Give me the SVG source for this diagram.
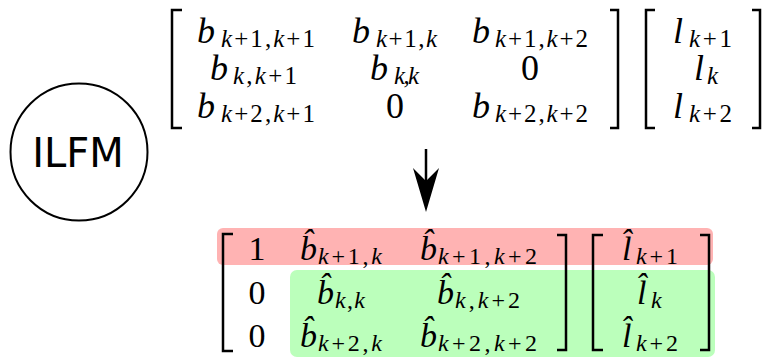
<svg xmlns="http://www.w3.org/2000/svg" width="765" height="358" viewBox="0 0 765 358">
<style>
.t{font-family:"Liberation Serif",serif;fill:#000}
.m{font-style:italic;font-size:36px}
.mb{font-style:italic;font-size:34px}
.n{font-size:36px;text-anchor:middle}
.nb{font-size:34px;text-anchor:middle}
.s{font-size:25px}
.sb{font-size:24px}
.i{font-style:italic}
.br{fill:none;stroke:#000;stroke-width:2.5}
</style>
<g id="ilfm">
<circle cx="79" cy="152" r="68.5" fill="#fff" stroke="#000" stroke-width="2"/>
<text x="78" y="167" font-family="DejaVu Sans, sans-serif" font-size="40" text-anchor="middle">ILFM</text>
</g>
<g id="top-system" class="t">
<path class="br" d="M182,10 H172 V128 H182"/>
<path class="br" d="M610,10 H618 V128 H610"/>
<path class="br" d="M655,10 H646 V128 H655"/>
<path class="br" d="M752,10 H760 V128 H752"/>
<text class="t m" x="197" y="43">b</text>
<text class="t m" x="352" y="43">b</text>
<text class="t m" x="472" y="43">b</text>
<text class="t m" x="210" y="80">b</text>
<text class="t m" x="370" y="80">b</text>
<text class="t m" x="197" y="118">b</text>
<text class="t m" x="472" y="118">b</text>
<text class="t m" x="673" y="43">l</text>
<text class="t m" x="694" y="80">l</text>
<text class="t m" x="673" y="118">l</text>
<text class="t n" x="530" y="80">0</text>
<text class="t n" x="395" y="118">0</text>
<text class="t s" x="221" y="47" textLength="94" lengthAdjust="spacing"><tspan class="i">k</tspan>+1,<tspan class="i">k</tspan>+1</text>
<text class="t s" x="376" y="47" textLength="61" lengthAdjust="spacing"><tspan class="i">k</tspan>+1,<tspan class="i">k</tspan></text>
<text class="t s" x="495" y="47" textLength="93" lengthAdjust="spacing"><tspan class="i">k</tspan>+1,<tspan class="i">k</tspan>+2</text>
<text class="t s" x="233" y="84" textLength="64" lengthAdjust="spacing"><tspan class="i">k</tspan>,<tspan class="i">k</tspan>+1</text>
<text class="t s" x="394" y="84" textLength="25" lengthAdjust="spacing"><tspan class="i">k</tspan>,<tspan class="i">k</tspan></text>
<text class="t s" x="221" y="122" textLength="94" lengthAdjust="spacing"><tspan class="i">k</tspan>+2,<tspan class="i">k</tspan>+1</text>
<text class="t s" x="495" y="122" textLength="93" lengthAdjust="spacing"><tspan class="i">k</tspan>+2,<tspan class="i">k</tspan>+2</text>
<text class="t s" x="689" y="47" textLength="43" lengthAdjust="spacing"><tspan class="i">k</tspan>+1</text>
<text class="t s i" x="707" y="84">k</text>
<text class="t s" x="689" y="122" textLength="43" lengthAdjust="spacing"><tspan class="i">k</tspan>+2</text>
</g>
<g id="connectors">
<line x1="426" y1="149" x2="426" y2="182" stroke="#000" stroke-width="2.5"/>
<polygon points="426,212 413,168 426,181 439,168" fill="#000"/>
</g>
<g id="bottom-system" class="t">
<rect x="217" y="228" width="496" height="37" rx="6" fill="#ffb3b3"/>
<rect x="290" y="270" width="425" height="87" rx="7" fill="#bbffbb"/>
<path class="br" d="M233,234 H223 V351 H233"/>
<path class="br" d="M557,235 H566 V350 H557"/>
<path class="br" d="M603,235 H593 V350 H603"/>
<path class="br" d="M700,235 H709 V350 H700"/>
<text class="t nb" x="257" y="260">1</text>
<text class="t nb" x="257" y="304">0</text>
<text class="t nb" x="257" y="347">0</text>
<text class="t mb" x="300" y="260">b&#770;</text>
<text class="t mb" x="420" y="260">b&#770;</text>
<text class="t mb" x="317" y="304">b&#770;</text>
<text class="t mb" x="437" y="304">b&#770;</text>
<text class="t mb" x="300" y="347">b&#770;</text>
<text class="t mb" x="420" y="347">b&#770;</text>
<text class="t mb" x="622" y="260">l&#770;</text>
<text class="t mb" x="637" y="304">l&#770;</text>
<text class="t mb" x="622" y="347">l&#770;</text>
<text class="t sb" x="318" y="264" textLength="64" lengthAdjust="spacing"><tspan class="i">k</tspan>+1,<tspan class="i">k</tspan></text>
<text class="t sb" x="438" y="264" textLength="99" lengthAdjust="spacing"><tspan class="i">k</tspan>+1,<tspan class="i">k</tspan>+2</text>
<text class="t sb" x="335" y="308" textLength="30" lengthAdjust="spacing"><tspan class="i">k</tspan>,<tspan class="i">k</tspan></text>
<text class="t sb" x="455" y="308" textLength="65" lengthAdjust="spacing"><tspan class="i">k</tspan>,<tspan class="i">k</tspan>+2</text>
<text class="t sb" x="318" y="351" textLength="64" lengthAdjust="spacing"><tspan class="i">k</tspan>+2,<tspan class="i">k</tspan></text>
<text class="t sb" x="438" y="351" textLength="99" lengthAdjust="spacing"><tspan class="i">k</tspan>+2,<tspan class="i">k</tspan>+2</text>
<text class="t sb" x="636" y="264" textLength="42" lengthAdjust="spacing"><tspan class="i">k</tspan>+1</text>
<text class="t sb i" x="651" y="308">k</text>
<text class="t sb" x="636" y="351" textLength="42" lengthAdjust="spacing"><tspan class="i">k</tspan>+2</text>
</g>
</svg>
